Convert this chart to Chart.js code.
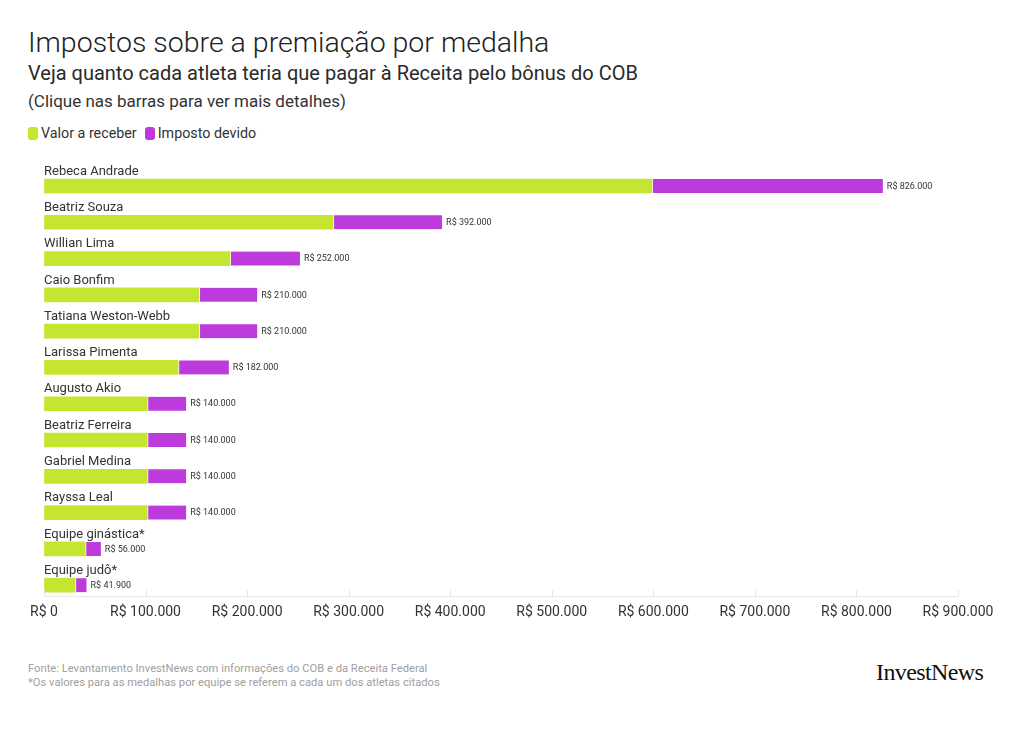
<!DOCTYPE html>
<html lang="pt-BR">
<head>
<meta charset="utf-8">
<title>Impostos sobre a premiação por medalha</title>
<script src="https://cdn.jsdelivr.net/npm/chart.js@4.4.1/dist/chart.umd.min.js"></script>
<style>
    html, body { margin: 0; padding: 0; background: #fff; }
    body { width: 1020px; height: 740px; position: relative; overflow: hidden; font-family: Roboto, "Noto Sans", sans-serif; color: #333; }
    .txt { position: absolute; left: 28px; white-space: nowrap; }
    #titulo { top: 26px; font-size: 28.5px; font-weight: 300; color: #222; }
    #subtitulo { top: 61px; font-size: 20px; color: #2a2a2a; }
    #nota { top: 91px; font-size: 17px; color: #333; }
    #legenda { top: 125px; font-size: 14.3px; color: #333; display: flex; align-items: center; }
    .sw { display: inline-block; width: 10px; height: 13px; border-radius: 3px; margin-right: 3px; }
    .item { display: flex; align-items: center; margin-right: 8px; }
    #fonte { top: 662px; font-size: 11.2px; line-height: 14px; color: #a0a0a0; }
    #logo { position: absolute; left: 876px; top: 659px; font-family: "Liberation Serif", "DejaVu Serif", serif; font-size: 24px; letter-spacing: -0.6px; color: #111; }
    #grafico { position: absolute; left: 0; top: 150px; width: 1020px; height: 490px; }
</style>
</head>
<body>
<div id="titulo" class="txt">Impostos sobre a premiação por medalha</div>
<div id="subtitulo" class="txt">Veja quanto cada atleta teria que pagar à Receita pelo bônus do COB</div>
<div id="nota" class="txt">(Clique nas barras para ver mais detalhes)</div>
<div id="legenda" class="txt">
    <span class="item"><span class="sw" style="background:#c5e630"></span>Valor a receber</span>
    <span class="item"><span class="sw" style="background:#bd3bdc"></span>Imposto devido</span>
</div>
<div id="grafico"><canvas id="graficoImpostos"></canvas></div>
<div id="fonte" class="txt">Fonte: Levantamento InvestNews com informações do COB e da Receita Federal<br>*Os valores para as medalhas por equipe se referem a cada um dos atletas citados</div>
<div id="logo">InvestNews</div>

<script>
// dados
const atletas = [
    "Rebeca Andrade", "Beatriz Souza", "Willian Lima", "Caio Bonfim",
    "Tatiana Weston-Webb", "Larissa Pimenta", "Augusto Akio", "Beatriz Ferreira",
    "Gabriel Medina", "Rayssa Leal", "Equipe ginástica*", "Equipe judô*"
];
const valorReceber = [598500, 284500, 183000, 152500, 152500, 132000, 101500, 101500, 101500, 101500, 40500, 30500];
const impostoDevido = [227500, 107500, 69000, 57500, 57500, 50000, 38500, 38500, 38500, 38500, 15500, 11400];
const premioTotal = [826000, 392000, 252000, 210000, 210000, 182000, 140000, 140000, 140000, 140000, 56000, 41900];
const ticksX = [0, 100000, 200000, 300000, 400000, 500000, 600000, 700000, 800000, 900000];

const corVerde = "#c5e630";
const corRoxo = "#bd3bdc";
const fmt = v => "R$ " + v.toLocaleString("pt-BR");

// nomes acima das barras, valor total no fim, linha do eixo
const rotulosPlugin = {
    id: "rotulos",
    afterDatasetsDraw(chart) {
        const { ctx, chartArea, scales } = chart;
        const y = scales.y, x = scales.x;
        ctx.save();
        ctx.fillStyle = "#333";
        ctx.font = "13px Roboto, 'Noto Sans', sans-serif";
        ctx.textBaseline = "bottom";
        ctx.textAlign = "left";
        atletas.forEach((nome, i) => {
            ctx.fillText(nome, x.getPixelForValue(0), y.getPixelForValue(i) - 8);
        });
        ctx.font = "9px Roboto, 'Noto Sans', sans-serif";
        ctx.textBaseline = "middle";
        premioTotal.forEach((v, i) => {
            ctx.fillText(fmt(v), x.getPixelForValue(v) + 4, y.getPixelForValue(i) + 0.5);
        });
        const yEixo = chartArea.bottom + 11;
        ctx.strokeStyle = "#e6e6e6";
        ctx.lineWidth = 1;
        ctx.beginPath();
        ctx.moveTo(chartArea.left, yEixo + 0.5);
        ctx.lineTo(chartArea.right, yEixo + 0.5);
        ctx.stroke();
        // pequenas marcas dos ticks
        ticksX.forEach(v => {
            const px = Math.round(x.getPixelForValue(v)) + 0.5;
            ctx.beginPath();
            ctx.moveTo(px, yEixo - 6);
            ctx.lineTo(px, yEixo);
            ctx.stroke();
        });
        ctx.restore();
    }
};

const ctx = document.getElementById("graficoImpostos").getContext("2d");
new Chart(ctx, {
    type: "bar",
    data: {
        labels: atletas,
        datasets: [
            {
                label: "Valor a receber",
                data: valorReceber,
                backgroundColor: corVerde,
                borderWidth: 0,
                barThickness: 14,
                clip: false
            },
            {
                label: "Imposto devido",
                data: impostoDevido,
                backgroundColor: corRoxo,
                borderColor: "#f4f4f4",
                borderWidth: { left: 1.5, right: 0, top: 0, bottom: 0 },
                borderSkipped: false,
                barThickness: 14,
                clip: false
            }
        ]
    },
    options: {
        indexAxis: "y",
        responsive: true,
        maintainAspectRatio: false,
        animation: false,
        layout: { padding: { left: 44, right: 62, top: 36, bottom: 0 } },
        plugins: {
            legend: { display: false },
            tooltip: { enabled: false },
            title: { display: false }
        },
        scales: {
            y: {
                stacked: true,
                display: false,
                offset: false
            },
            x: {
                stacked: true,
                min: 0,
                max: 900000,
                afterBuildTicks: axis => { axis.ticks = ticksX.map(v => ({ value: v })); },
                border: { display: false },
                grid: { drawOnChartArea: false, drawTicks: false },
                ticks: {
                    padding: 19,
                    color: "#333",
                    font: { family: "Roboto, 'Noto Sans', sans-serif", size: 14 },
                    maxRotation: 0,
                    callback: v => fmt(v)
                }
            }
        }
    },
    plugins: [rotulosPlugin]
});
</script>
</body>
</html>
